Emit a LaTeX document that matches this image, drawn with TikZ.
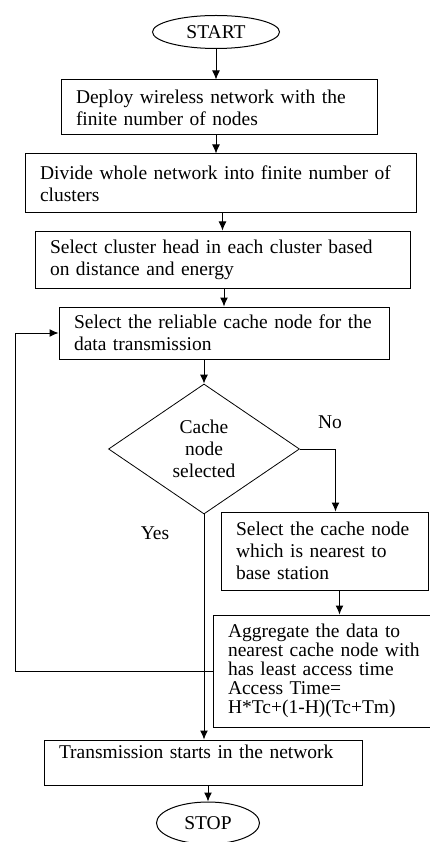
\documentclass[tikz,border=0pt]{standalone}
\usepackage{fontspec}
\setmainfont{Liberation Serif}
\usetikzlibrary{shapes.geometric,arrows.meta}
\begin{document}
\begin{tikzpicture}[x=1pt,y=-1pt,
  every node/.style={font=\fontsize{19.5}{22}\selectfont},
  box/.style={draw, line width=1pt, rectangle, align=left, inner xsep=15pt, inner ysep=0pt},
  term/.style={draw, line width=1pt, ellipse, inner sep=0pt},
  decision/.style={draw, line width=0.8pt, diamond, inner sep=0pt, align=center, aspect=1.47},
  arr/.style={line width=1pt, -{Latex[length=9pt,width=8pt]}},
  lbl/.style={inner sep=0pt}]
\clip (0,0) rectangle (430,842);
\node[term, minimum width=127pt, minimum height=33pt] (start) at (216,32) {START};
\node[box, text width=286pt, minimum height=55pt] (b1) at (219,107.5)
  {Deploy wireless network with the\\finite number of nodes};
\node[box, text width=361pt, minimum height=59pt] (b2) at (220.5,183.5)
  {Divide whole network into finite number of\\clusters};
\node[box, text width=345pt, minimum height=57pt] (b3) at (222.5,259.5)
  {Select cluster head in each cluster based\\on distance and energy};
\node[box, text width=300pt, minimum height=52pt] (b4) at (224,333)
  {Select the reliable cache node for the\\data transmission};
\node[decision, minimum width=191pt, minimum height=130pt] (dia) at (204,449)
  {Cache\\node\\selected};
\node[box, text width=177pt, minimum height=78pt] (b5) at (324.5,551)
  {Select the cache node\\which is nearest to\\base station};
\node[box, text width=200pt, minimum height=112pt, font=\fontsize{19.5}{19}\selectfont] (b6) at (328,671)
  {Aggregate the data to\\nearest cache node with\\has least access time\\Access Time=\\H*Tc+(1-H)(Tc+Tm)};
\node[box, text width=288pt, minimum height=45pt] (b7) at (203,762.5)
  {Transmission starts in the network\\ \mbox{}};
\node[term, minimum width=103pt, minimum height=42pt] (stop) at (208,823) {STOP};
\node[lbl] (no) at (330,422) {No};
\node[lbl] (yes) at (155,533) {Yes};
\coordinate (loopx) at (15,0);

\draw[arr] (start.south) -- (start.south |- b1.north);
\draw[arr] (start.south |- b1.south) -- (start.south |- b2.north);
\draw[arr] (b3.north |- b2.south) -- (b3.north);
\draw[arr] (b4.north |- b3.south) -- (b4.north);
\draw[arr] (dia.north |- b4.south) -- (dia.north);
\draw[arr] (dia.east) -| ([xshift=11pt]b5.north);
\draw[arr] ([xshift=15pt]b5.south) -- ([xshift=15pt]b5.south |- b6.north);
\draw[arr] (dia.south) -- (dia.south |- b7.north);
\draw[arr] (b6.west) -- (b6.west -| loopx) |- (b4.west);
\draw[arr] (stop.north |- b7.south) -- (stop.north);
\end{tikzpicture}
\end{document}
